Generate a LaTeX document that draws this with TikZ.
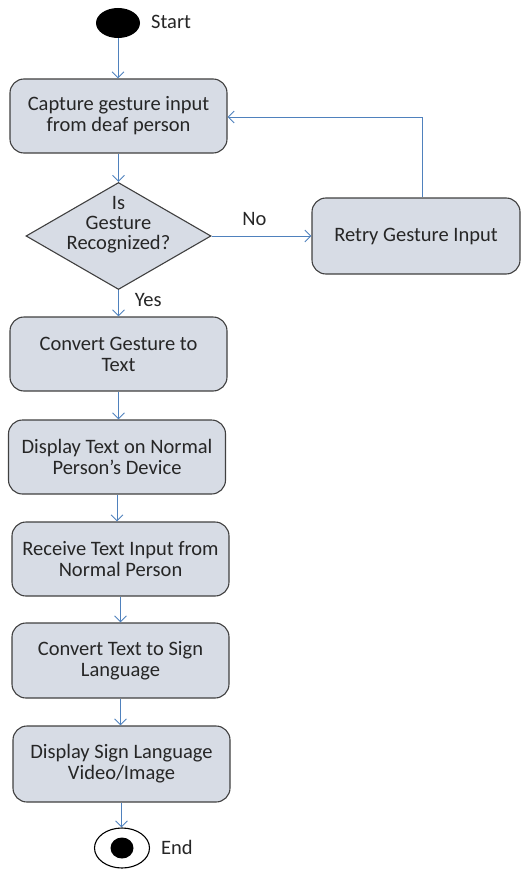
\documentclass[tikz,border=0pt]{standalone}
\usepackage{fontspec}
\setmainfont{Carlito}
\usetikzlibrary{shapes.geometric,arrows.meta}
\definecolor{boxfill}{HTML}{D7DCE5}
\definecolor{boxline}{HTML}{404040}
\definecolor{arrowc}{HTML}{4F81BD}
\definecolor{txt}{HTML}{262626}
\tikzset{
  actbox/.style={draw=boxline, fill=boxfill, line width=1.1pt, rounded corners=14pt, align=center, inner sep=0pt,
    font=\fontsize{20.5}{21}\selectfont, text=txt},
  flow/.style={draw=arrowc, line width=0.9pt, -{Straight Barb[length=6pt,width=12pt]}},
  lbl/.style={font=\fontsize{20.5}{20}\selectfont, inner sep=0pt, text=txt}
}
\begin{document}
\begin{tikzpicture}[x=1pt,y=-1pt]
\useasboundingbox (0,0) rectangle (521,872);
% start
\node[ellipse, fill=black, minimum width=44pt, minimum height=30pt, inner sep=0pt] (start) at (118,23) {};
\node[lbl, anchor=west] (startlbl) at (151,22) {Start};
% boxes
\node[actbox, minimum width=217pt, minimum height=74pt] (b1) at (118.5,116) {Capture gesture input\\from deaf person};
\node[diamond, draw=boxline, fill=boxfill, line width=1.1pt, minimum width=185pt, minimum height=107pt, inner sep=0pt] (d) at (118.5,236) {};
\node[lbl, align=center] (dtext) at (118.5,225) {Is\\Gesture\\Recognized?};
\node[actbox, minimum width=208pt, minimum height=76pt] (retry) at (416,236) {Retry Gesture Input};
\node[actbox, minimum width=217pt, minimum height=74pt] (b2) at (118.5,354) {Convert Gesture to\\Text};
\node[actbox, minimum width=217pt, minimum height=74pt] (b3) at (117,457) {Display Text on Normal\\Person’s Device};
\node[actbox, minimum width=217pt, minimum height=74pt] (b4) at (120.5,559) {Receive Text Input from\\Normal Person};
\node[actbox, minimum width=217pt, minimum height=75pt] (b5) at (120.5,660.5) {Convert Text to Sign\\Language};
\node[actbox, minimum width=217pt, minimum height=76pt] (b6) at (121.5,764) {Display Sign Language\\Video/Image};
% end
\node[ellipse, draw=black, fill=white, line width=1.1pt, minimum width=55pt, minimum height=40pt, inner sep=0pt] (endo) at (122,848) {};
\node[ellipse, fill=black, minimum width=23pt, minimum height=21pt, inner sep=0pt] (endi) at (endo) {};
\node[lbl, anchor=west] (endlbl) at (161,847) {End};
% connectors
\draw[flow] (start.south) -- (start.south |- b1.north);
\draw[flow] (b1.south) -- (d.north);
\draw[flow] (d.east) -- (retry.west) node[lbl, pos=0.43, above=10pt] (no) {No};
\coordinate (corner) at (422,117);
\draw[flow] (retry.north -| corner) -- (corner) -- (b1.east |- corner);
\draw[flow] (d.south) -- (b2.north -| d.south) node[lbl, pos=0.38, right=16pt] (yes) {Yes};
\draw[flow] (b2.south) -- (b2.south |- b3.north);
\draw[flow] (b3.south) -- (b3.south |- b4.north);
\draw[flow] (b4.south) -- (b4.south |- b5.north);
\draw[flow] (b5.south) -- (b5.south |- b6.north);
\draw[flow] (b6.south) -- (b6.south |- endo.north);
\end{tikzpicture}
\end{document}
